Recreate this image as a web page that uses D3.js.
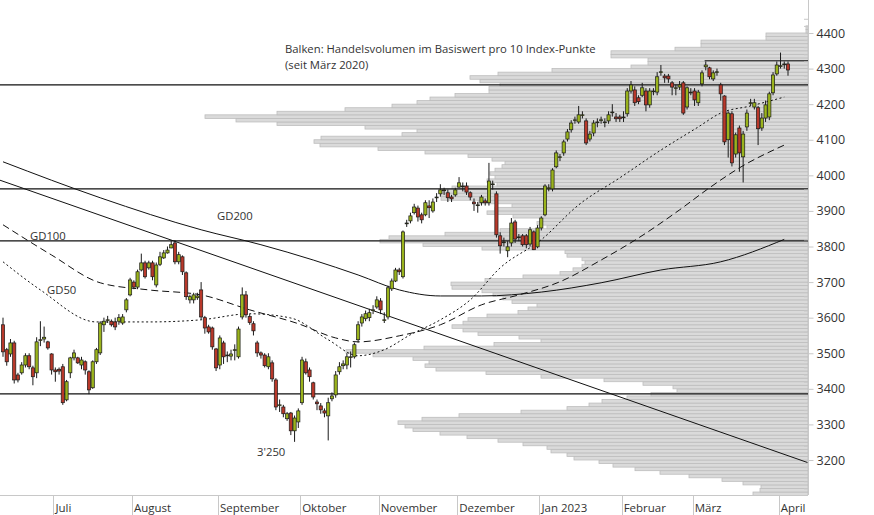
<!DOCTYPE html>
<html><head><meta charset="utf-8">
<script src="https://cdn.jsdelivr.net/npm/d3@7"></script>
<style>body{margin:0;background:#fff}svg{display:block;font-family:"Open Sans","Noto Sans",sans-serif}</style>
</head><body><svg id="c" width="874" height="515"></svg>
<script>
// Daily candles [open, high, low, close], late June 2022 .. early April 2023
const candles = [
[3580,3600,3490,3504],[3510,3515,3465,3476],[3498,3540,3490,3529],[3529,3535,3415,3425],[3439,3445,3418,3425],
[3445,3475,3440,3467],[3467,3500,3460,3493],[3493,3500,3455,3462],[3459,3465,3410,3434],[3445,3545,3430,3532],
[3538,3590,3520,3538],[3540,3575,3530,3545],[3532,3535,3510,3515],[3498,3500,3440,3453],[3453,3460,3420,3448],
[3455,3460,3440,3450],[3462,3470,3355,3361],[3369,3425,3365,3420],[3445,3490,3430,3487],[3487,3510,3480,3501],
[3487,3490,3470,3473],[3467,3490,3455,3481],[3476,3480,3440,3453],[3448,3452,3385,3397],[3403,3480,3400,3476],
[3476,3515,3470,3510],[3501,3590,3495,3585],[3580,3600,3560,3590],[3594,3605,3585,3594],[3590,3595,3575,3580],
[3588,3600,3565,3574],[3590,3610,3580,3600],[3585,3610,3580,3602],[3622,3655,3615,3650],[3664,3712,3660,3706],
[3700,3705,3680,3686],[3686,3735,3680,3729],[3734,3780,3730,3754],[3754,3760,3710,3715],[3740,3760,3735,3754],
[3754,3760,3705,3715],[3692,3755,3685,3748],[3750,3785,3745,3771],[3768,3790,3765,3782],[3782,3800,3780,3790],
[3796,3818,3795,3805],[3810,3818,3750,3757],[3757,3785,3750,3777],[3771,3775,3720,3729],[3726,3730,3650,3659],
[3650,3665,3640,3659],[3650,3670,3640,3664],[3656,3670,3650,3661],[3678,3700,3595,3602],[3600,3605,3555,3571],
[3574,3580,3555,3560],[3571,3575,3510,3518],[3512,3515,3450,3459],[3467,3550,3455,3543],[3529,3535,3470,3490],
[3495,3505,3475,3495],[3492,3510,3480,3498],[3510,3525,3480,3510],[3490,3575,3485,3568],[3602,3685,3595,3664],
[3664,3675,3600,3608],[3603,3610,3580,3586],[3583,3590,3550,3563],[3529,3535,3490,3501],[3501,3505,3485,3495],
[3495,3500,3460,3465],[3462,3500,3455,3490],[3473,3480,3420,3428],[3425,3430,3340,3349],[3355,3370,3335,3355],
[3349,3355,3320,3330],[3316,3335,3310,3330],[3332,3335,3270,3282],[3282,3325,3251,3318],[3307,3345,3290,3338],
[3361,3490,3355,3481],[3476,3485,3440,3445],[3453,3460,3420,3434],[3417,3420,3370,3377],[3363,3370,3340,3358],
[3352,3360,3330,3341],[3338,3345,3320,3332],[3324,3375,3255,3361],[3372,3390,3365,3380],[3383,3450,3375,3439],
[3448,3475,3440,3462],[3465,3480,3455,3470],[3467,3500,3455,3490],[3490,3505,3460,3490],[3490,3530,3485,3524],
[3538,3590,3530,3580],[3585,3610,3575,3602],[3597,3620,3590,3611],[3600,3625,3590,3614],[3622,3635,3610,3622],
[3630,3660,3625,3650],[3647,3655,3610,3622],[3594,3615,3585,3594],[3602,3690,3595,3684],[3681,3710,3675,3703],
[3703,3740,3700,3734],[3734,3740,3720,3729],[3715,3845,3710,3841],[3866,3875,3855,3866],[3872,3895,3865,3886],
[3895,3920,3890,3911],[3908,3915,3870,3883],[3889,3895,3865,3875],[3889,3930,3885,3923],[3914,3930,3880,3909],
[3900,3935,3895,3925],[3939,3950,3925,3939],[3948,3975,3940,3959],[3959,3965,3945,3959],[3951,3960,3925,3937],
[3939,3945,3925,3934],[3945,3965,3940,3959],[3967,3995,3965,3979],[3970,3980,3955,3970],[3970,3980,3945,3953],
[3951,3955,3930,3939],[3925,3935,3900,3920],[3917,3925,3895,3917],[3923,3945,3915,3939],[3928,3935,3915,3923],
[3923,4035,3915,3984],[3976,3985,3960,3976],[3948,3955,3825,3833],[3830,3840,3780,3802],[3813,3825,3800,3813],
[3788,3815,3770,3799],[3810,3880,3800,3866],[3869,3875,3810,3821],[3827,3835,3815,3827],[3830,3835,3800,3805],
[3830,3835,3795,3805],[3807,3855,3800,3847],[3841,3845,3790,3791],[3799,3860,3795,3852],[3852,3885,3845,3880],
[3889,3975,3885,3970],[3965,3975,3955,3965],[3962,4020,3955,4015],[4024,4070,4020,4063],[4052,4060,4040,4052],
[4063,4100,4055,4094],[4102,4130,4095,4122],[4128,4155,4120,4147],[4156,4165,4145,4156],[4150,4195,4145,4170],
[4170,4180,4160,4170],[4153,4160,4085,4091],[4102,4125,4095,4116],[4119,4155,4110,4147],[4150,4160,4135,4150],
[4156,4165,4145,4156],[4150,4160,4135,4150],[4153,4180,4145,4170],[4178,4200,4165,4178],[4164,4175,4150,4159],
[4164,4170,4150,4159],[4164,4180,4150,4164],[4173,4245,4165,4237],[4237,4265,4230,4254],[4240,4250,4195,4204],
[4218,4225,4200,4207],[4225,4260,4220,4246],[4237,4245,4180,4198],[4198,4245,4190,4237],[4237,4245,4225,4237],
[4234,4290,4225,4277],[4291,4310,4280,4291],[4279,4285,4260,4274],[4279,4285,4260,4271],[4260,4265,4225,4248],
[4246,4255,4225,4246],[4248,4265,4240,4254],[4260,4265,4170,4175],[4192,4250,4185,4246],[4234,4245,4225,4234],
[4237,4245,4195,4212],[4204,4240,4195,4234],[4257,4295,4250,4288],[4305,4320,4295,4310],[4302,4305,4270,4277],
[4271,4295,4265,4288],[4291,4300,4280,4291],[4254,4260,4210,4229],[4223,4225,4085,4094],[4100,4180,4050,4175],
[4173,4180,4025,4035],[4060,4120,4050,4114],[4133,4140,4010,4063],[4052,4125,3980,4116],[4136,4185,4125,4175],
[4204,4215,4195,4204],[4192,4215,4185,4204],[4190,4195,4085,4131],[4133,4175,4125,4161],[4161,4210,4150,4198],
[4164,4235,4155,4229],[4232,4290,4225,4282],[4285,4320,4280,4310],[4308,4345,4300,4308],[4313,4320,4300,4313],
[4313,4320,4280,4296]
];
// Moving averages [candle index, value]
const gd50 = [[0,3757],[10,3678],[25,3588],[39,3588],[53,3594],[66,3611],[77,3599],[87,3538],[95,3493],[102,3510],[109,3552],[117,3594],[125,3650],[133,3740],[144,3819],[154,3917],[165,3993],[176,4071],[186,4136],[192,4175],[200,4195],[209,4220]];
const gd100 = [[0,3861],[13,3776],[26,3698],[39,3678],[53,3664],[66,3622],[79,3583],[89,3543],[95,3532],[106,3549],[117,3580],[128,3636],[138,3664],[149,3701],[160,3762],[170,3824],[181,3903],[189,3965],[197,4021],[209,4085]];
const gd200 = [[0,4038],[26,3937],[53,3847],[69,3805],[83,3762],[95,3720],[106,3678],[117,3661],[128,3661],[144,3672],[160,3698],[176,3734],[192,3757],[209,3820]];
const trendLine = [[-1,3987],[215.2,3193]];
const hLevels = [4254,3962,3816,3386];
const topLevel = {from:187.7, value:4322};
// Volume profile: bins of 10 index points from 3100 upward
const volBinStart = 3100;
const volumes = [55,48,47,65,86,119,148,173,195,209,234,241,257,261,285,310,341,368,395,403,410,386,349,287,241,219,206,181,157,131,
135,165,204,267,322,372,383,379,395,435,462,384,314,267,289,330,345,356,345,340,321,290,280,271,296,305,315,326,356,357,
323,285,248,235,226,223,226,241,243,326,385,428,419,363,308,261,271,267,295,321,313,296,330,367,367,369,356,311,321,313,
318,313,306,303,316,340,383,430,488,494,487,406,391,443,531,572,603,531,463,416,391,378,353,319,319,308,328,338,310,256,
177,160,160,197,197,133,107,107,42,42,2,2];
const yTicks = [3200,3300,3400,3500,3600,3700,3800,3900,4000,4100,4200,4300,4400];
const monthTicks = [13.5,34.5,57.5,79.5,100.5,121.5,143.5,165.5,184.5,207.5];
const monthLabels = ["Juli","August","September","Oktober","November","Dezember","Jan 2023","Februar","März","April"];
const annotations = [
 {t:"Balken: Handelsvolumen im Basiswert pro 10 Index-Punkte",x:285,y:53},
 {t:"(seit März 2020)",x:285,y:69},
 {t:"GD200",x:217,y:220},{t:"GD100",x:30,y:240},{t:"GD50",x:47,y:294},{t:"3'250",x:257,y:456}
];

const svg = d3.select("#c");
const R = 808, B = 495;
const x = d3.scaleLinear().domain([0,candles.length-1]).range([3,788]);
const y = d3.scaleLinear().domain([3200,4400]).range([460,33]);
const vx = d3.scaleLinear().domain([0,808]).range([R,0]);
const plot = svg.append("g");
plot.append("clipPath").attr("id","pc").append("rect").attr("x",0).attr("y",0).attr("width",R).attr("height",B);
const g = plot.append("g").attr("clip-path","url(#pc)");

g.append("g").selectAll("rect").data(volumes).join("rect")
 .attr("x",d=>vx(d)).attr("width",d=>R-vx(d))
 .attr("y",(d,i)=>y(volBinStart+(i+1)*10)).attr("height",(d,i)=>y(volBinStart+i*10)-y(volBinStart+(i+1)*10))
 .attr("fill","#dadada").attr("stroke","#bdbdbd").attr("stroke-width",0.8);

g.selectAll(".hl").data(hLevels).join("line").attr("x1",0).attr("x2",R)
 .attr("y1",d=>y(d)).attr("y2",d=>y(d)).attr("stroke","#111").attr("stroke-width",1.2);
g.append("line").attr("x1",x(topLevel.from)).attr("x2",R).attr("y1",y(topLevel.value)).attr("y2",y(topLevel.value)).attr("stroke","#111").attr("stroke-width",1.2);

const line = d3.line().x(d=>x(d[0])).y(d=>y(d[1])).curve(d3.curveMonotoneX);
g.append("path").attr("d",d3.line().x(d=>x(d[0])).y(d=>y(d[1]))(trendLine)).attr("fill","none").attr("stroke","#111").attr("stroke-width",1);
g.append("path").attr("d",line(gd200)).attr("fill","none").attr("stroke","#111").attr("stroke-width",1);
g.append("path").attr("d",line(gd100)).attr("fill","none").attr("stroke","#111").attr("stroke-width",1).attr("stroke-dasharray","7,4");
g.append("path").attr("d",line(gd50)).attr("fill","none").attr("stroke","#111").attr("stroke-width",1).attr("stroke-dasharray","2,2.5");

const cg = g.append("g").selectAll("g").data(candles).join("g");
cg.append("line").attr("x1",(d,i)=>x(i)).attr("x2",(d,i)=>x(i)).attr("y1",d=>y(d[1])).attr("y2",d=>y(d[2])).attr("stroke","#1a1a1a").attr("stroke-width",1);
cg.append("rect").attr("x",(d,i)=>x(i)-1.6).attr("width",3.2)
 .attr("y",d=>y(Math.max(d[0],d[3]))).attr("height",d=>Math.max(0.8,Math.abs(y(d[0])-y(d[3]))))
 .attr("fill",d=>d[3]>=d[0]?"#9ab31c":"#b8382a").attr("stroke","#1a1a1a").attr("stroke-width",0.7);

svg.append("g").selectAll("text").data(annotations).join("text").attr("x",d=>d.x).attr("y",d=>d.y).text(d=>d.t)
 .attr("font-size",11.3).attr("fill","#333");

svg.append("line").attr("x1",R+0.5).attr("x2",R+0.5).attr("y1",0).attr("y2",B).attr("stroke","#c8c8c8");
const minor = d3.range(3120,4441,20).filter(v=>v%100!==0);
svg.append("g").selectAll("line").data(minor).join("line").attr("x1",R-4).attr("x2",R).attr("y1",d=>y(d)+0.5).attr("y2",d=>y(d)+0.5).attr("stroke","#c8c8c8");
const ya = svg.append("g").attr("transform",`translate(${R+0.5},0)`).call(d3.axisRight(y).tickValues(yTicks).tickSize(5).tickPadding(3).tickFormat(d3.format("d")));
ya.select(".domain").remove();
ya.selectAll("line").attr("stroke","#c8c8c8");
ya.selectAll("text").attr("font-size",12.5).attr("fill","#333").attr("font-family","Open Sans, Noto Sans, sans-serif");

svg.append("line").attr("x1",0).attr("x2",R).attr("y1",B+0.5).attr("y2",B+0.5).attr("stroke","#c8c8c8");
const mt = svg.append("g");
mt.selectAll("line").data(monthTicks).join("line").attr("x1",d=>Math.round(x(d))+0.5).attr("x2",d=>Math.round(x(d))+0.5).attr("y1",B).attr("y2",515).attr("stroke","#c8c8c8");
mt.selectAll("text").data(monthTicks).join("text").attr("x",d=>x(d)+2).attr("y",512).text((d,i)=>monthLabels[i]).attr("font-size",11.5).attr("fill","#333");
</script></body></html>
